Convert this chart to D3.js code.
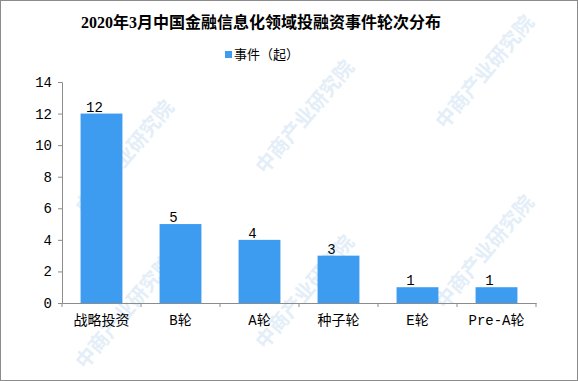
<!DOCTYPE html>
<html>
<head>
<meta charset="utf-8">
<script src="https://cdn.jsdelivr.net/npm/d3@7"></script>
<style>
  body { margin: 0; background: #fff; }
  svg text { fill: #000; }
</style>
</head>
<body>
<div class="chart-area"></div>
<script>
var categories = ["战略投资", "B轮", "A轮", "种子轮", "E轮", "Pre-A轮"];
var events = [12, 5, 4, 3, 1, 1];
var yTicks = [0, 2, 4, 6, 8, 10, 12, 14];
var title = "2020年3月中国金融信息化领域投融资事件轮次分布";
var seriesName = "事件（起）";

var W = 578, H = 381;
var labelFont = "'Liberation Mono', 'Noto Sans CJK SC', monospace";

var svg = d3.select(".chart-area")
    .append("svg")
    .attr("width", W)
    .attr("height", H);

svg.append("rect")
    .attr("x", 0.5).attr("y", 0.5)
    .attr("width", W - 1).attr("height", H - 1)
    .attr("fill", "#fff")
    .attr("stroke", "#8c8c8c");

// watermark (kept inside the frame)
var marks = [[85, 215], [85, 370], [265, 175], [265, 350], [445, 130], [445, 310]];
marks.forEach(function (m) {
    svg.append("text")
        .attr("transform", "translate(" + m[0] + "," + m[1] + ") rotate(-50)")
        .attr("font-family", "'Noto Sans CJK SC'")
        .attr("font-size", 20)
        .attr("font-weight", "bold")
        .style("fill", "#e3eef8")
        .text("中商产业研究院");
});

var x = d3.scaleBand()
    .domain(categories)
    .range([62, 536])
    .paddingInner(0.47)
    .paddingOuter(0.235);

var y = d3.scaleLinear()
    .domain([0, 14])
    .range([303, 82]);

var step = x.step();

svg.append("text")
    .attr("x", 261).attr("y", 28)
    .attr("text-anchor", "middle")
    .attr("font-family", "'Liberation Serif', 'Noto Sans CJK SC', serif")
    .attr("font-weight", "bold")
    .attr("font-size", 16)
    .text(title);

// legend
svg.append("rect")
    .attr("x", 225).attr("y", 51)
    .attr("width", 7).attr("height", 7)
    .attr("fill", "#3d9cf0");
svg.append("text")
    .attr("x", 234).attr("y", 59)
    .attr("font-family", "'Noto Sans CJK SC', sans-serif")
    .attr("font-size", 13)
    .text(seriesName);

// bars
svg.selectAll("rect.bar")
    .data(events)
    .enter().append("rect")
    .attr("class", "bar")
    .attr("x", function (d, i) { return x(categories[i]); })
    .attr("y", function (d) { return y(d); })
    .attr("width", x.bandwidth())
    .attr("height", function (d) { return y(0) - y(d); })
    .attr("fill", "#3d9cf0");

svg.selectAll("text.val")
    .data(events)
    .enter().append("text")
    .attr("class", "val")
    .attr("x", function (d, i) { return x(categories[i]) + x.bandwidth() / 2 - 7; })
    .attr("y", function (d) { return y(d) - 2; })
    .attr("text-anchor", "middle")
    .attr("font-family", labelFont)
    .attr("font-size", 14)
    .text(function (d) { return d; });

// y axis
var yAxis = svg.append("g")
    .attr("transform", "translate(62,0)")
    .call(d3.axisLeft(y).tickValues(yTicks).tickSize(4).tickPadding(6));
yAxis.selectAll("line, path").attr("stroke", "#8c8c8c");
yAxis.selectAll("text")
    .attr("font-family", labelFont)
    .attr("font-size", 14)
    .style("fill", "#000");

// x axis
var xAxis = svg.append("g")
    .attr("transform", "translate(0,303)")
    .call(d3.axisBottom(x).tickSize(0).tickPadding(12).tickSizeOuter(0));
xAxis.select("path").attr("stroke", "#8c8c8c");
xAxis.selectAll("text")
    .attr("font-family", labelFont)
    .attr("font-size", 14)
    .style("fill", "#000");

var bounds = d3.range(categories.length + 1).map(function (i) { return 62 + i * step; });
svg.selectAll("line.xtick")
    .data(bounds)
    .enter().append("line")
    .attr("class", "xtick")
    .attr("x1", function (d) { return d; })
    .attr("x2", function (d) { return d; })
    .attr("y1", 303).attr("y2", 307)
    .attr("stroke", "#8c8c8c");
</script>
</body>
</html>
